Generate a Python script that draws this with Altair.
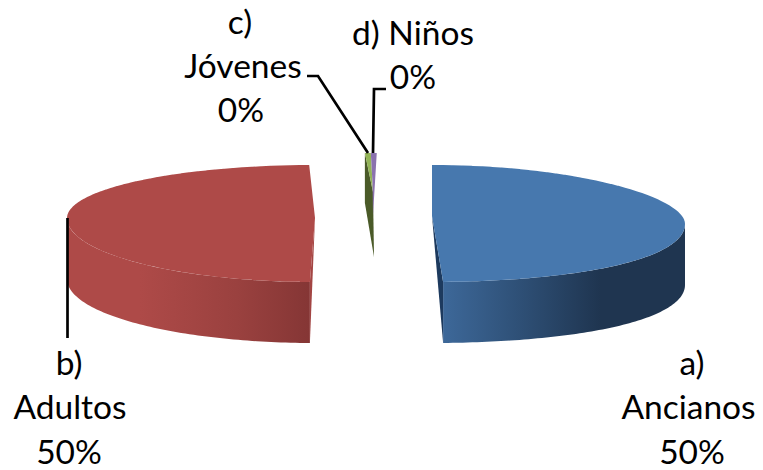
import numpy as np
import pandas as pd
import altair as alt

# ---- values
categories = ["a) Ancianos", "b) Adultos", "c) Jóvenes", "d) Niños"]
shares = [49.3, 49.3, 0.7, 0.7]
shown = ["50%", "50%", "0%", "0%"]

# ---- label layout (page px): text line, centre x, baseline y
label_lines = ["a)", "Ancianos", "50%", "b)", "Adultos", "50%", "c)", "Jóvenes", "0%", "d) Niños", "0%"]
label_x = [692, 688.5, 692, 69, 70, 69, 240, 243, 241, 413, 413]
label_y = [375, 419, 464, 375, 419, 464, 34, 78, 122, 45, 89]

# ---- leader lines (page px)
leader_b = ([67.5, 67.5], [218, 338])
leader_c = ([307, 318, 368], [76, 76, 153])
leader_d = ([386, 374, 373], [89, 89, 153])

# ---- per-slice 3D look: centre, radii (perspective), rotation
geom = {
    "a": dict(cx=432, cy=216, rx=253, ry_top=51, ry_bot=66, tip=8, rot=0.0, depth=61),
    "b": dict(cx=315, cy=218, rx=248, ry_top=53, ry_bot=64, tip=0, rot=3.7, depth=61),
    "c": dict(cx=373, cy=192, rx=135, ry_top=39, ry_bot=39, tip=0, rot=1.6, depth=63),
    "d": dict(cx=373, cy=192, rx=135, ry_top=39, ry_bot=39, tip=0, rot=1.6, depth=63),
}

starts = np.cumsum([0] + shares[:-1]) * 3.6
angles = {k: (s + geom[k]["rot"], s + geom[k]["rot"] + v * 3.6)
          for k, s, v in zip("abcd", starts, shares)}

X = alt.X("x:Q", scale=alt.Scale(domain=[8, 755]), axis=None)
Y = alt.Y("y:Q", scale=alt.Scale(domain=[470, 8]), axis=None)


def rim(key, t0, t1, n=80):
    g = geom[key]
    t = np.radians(np.linspace(t0, t1, n))
    c = np.cos(t)
    ry = np.where(c > 0, g["ry_top"], g["ry_bot"])
    return list(zip(g["cx"] + g["rx"] * np.sin(t),
                    g["cy"] - ry * c + g["tip"] * np.sin(t) ** 2))


def sweep(poly):
    """Vertical extents of a polygon at each of its vertices' x."""
    pts = np.array(poly + [poly[0]], dtype=float)
    rows = []
    for x in np.unique(np.round(pts[:, 0], 3)):
        ys = []
        for (x0, y0), (x1, y1) in zip(pts[:-1], pts[1:]):
            lo, hi = min(x0, x1), max(x0, x1)
            if lo - 1e-3 <= x <= hi + 1e-3:
                if abs(x1 - x0) < 1e-3:
                    ys += [y0, y1]
                else:
                    ys.append(y0 + (y1 - y0) * (x - x0) / (x1 - x0))
        rows.append(dict(x=x, y=min(ys), y2=max(ys)))
    return pd.DataFrame(rows)


def grad(*stops):
    return alt.Gradient(
        gradient="linear", x1=0, x2=1, y1=0, y2=0,
        stops=[alt.GradientStop(color=c, offset=o) for o, c in stops],
    )


def shape(poly, fill):
    return alt.Chart(sweep(poly)).mark_area(color=fill, interpolate="linear").encode(
        x=X, y=Y, y2="y2:Q")


def down(pts, d):
    return [(x, y + d) for x, y in pts]


layers = []

# a) blue slice
a0, a1 = angles["a"]
ga = geom["a"]
wall = rim("a", 90, a1)
front = wall[-1]
layers.append(shape(wall + down(wall, ga["depth"])[::-1],
                    grad((0, "#3d6899"), (0.3, "#2f5178"), (0.65, "#1f3550"), (1, "#1f3550"))))
layers.append(shape([(ga["cx"], ga["cy"]), front, (front[0], front[1] + ga["depth"])], "#1d3a5e"))
layers.append(shape([(ga["cx"], ga["cy"])] + rim("a", a0, a1), "#4778ae"))

# b) red slice
b0, b1 = angles["b"]
gb = geom["b"]
wall = rim("b", b0, 270)
front = wall[0]
layers.append(shape(wall + down(wall, gb["depth"])[::-1],
                    grad((0, "#ae4a48"), (0.3, "#ae4a48"), (0.7, "#9a413f"), (1, "#853635"))))
layers.append(shape([(gb["cx"], gb["cy"]), front, (front[0], front[1] + gb["depth"])], "#a34543"))
layers.append(shape([(gb["cx"], gb["cy"])] + rim("b", b0, b1), "#ae4a48"))

# c) green and d) purple slivers
c0, c1 = angles["c"]
d0, d1 = angles["d"]
gc = geom["c"]
r = rim("c", c0, c0, 1)[0]
layers.append(shape([r, (r[0], r[1] + 50), (gc["cx"] + 1, gc["cy"] + gc["depth"] + 2), (gc["cx"], gc["cy"])], "#4a5a28"))
layers.append(shape([(gc["cx"], gc["cy"])] + rim("c", c0, c1, 8), "#93b457"))
layers.append(shape([(gc["cx"], gc["cy"] + 23), (gc["cx"], gc["cy"])] + rim("d", d0, d1, 8), "#8b72ae"))


# leader lines
def leader(xs, ys):
    df = pd.DataFrame({"x": xs, "y": ys, "i": range(len(xs))})
    return alt.Chart(df).mark_line(color="#000000", strokeWidth=2.7, interpolate="linear").encode(
        x=X, y=Y, order="i:O")


layers += [leader(*leader_b), leader(*leader_c), leader(*leader_d)]

# labels
labels = pd.DataFrame({"x": label_x, "y": label_y, "t": label_lines})
layers.append(
    alt.Chart(labels).mark_text(font="Lato", fontSize=33.5, color="#000000", align="center",
                                baseline="alphabetic").encode(x=X, y=Y, text="t:N")
)

chart = alt.layer(*layers).properties(
    width=747, height=462, padding=0, background="#ffffff",
    autosize=alt.AutoSizeParams(type="none"),
).configure_view(stroke=None)

chart.save("out.html", embed_options={"renderer": "svg", "actions": False})
